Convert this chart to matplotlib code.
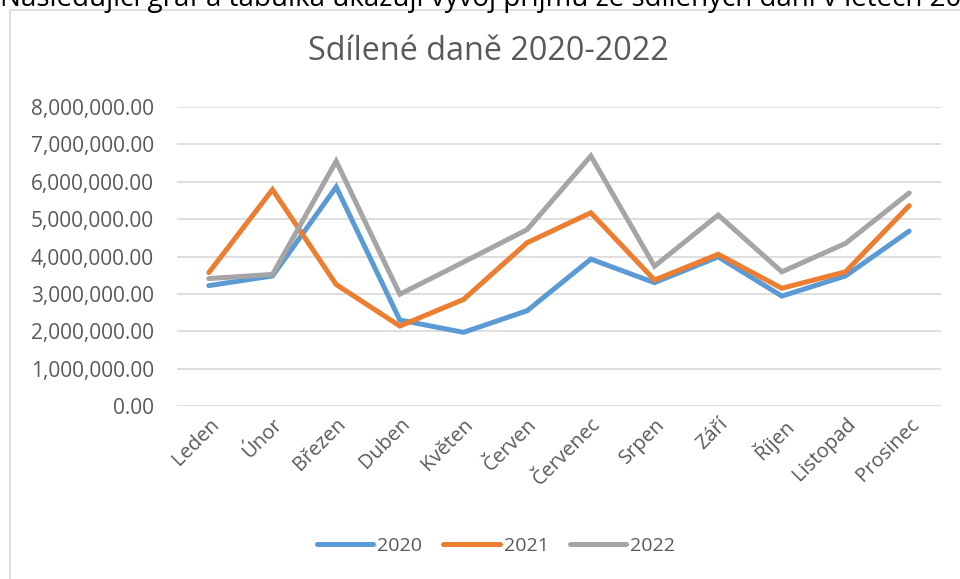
import matplotlib
matplotlib.use("Agg")
import matplotlib.pyplot as plt
from matplotlib.patches import Rectangle
from matplotlib.ticker import FuncFormatter, MultipleLocator

months = ["Leden", "Únor", "Březen", "Duben", "Květen", "Červen",
          "Červenec", "Srpen", "Září", "Říjen", "Listopad", "Prosinec"]
y2020 = [3.22e6, 3.48e6, 5.86e6, 2.30e6, 1.97e6, 2.55e6,
         3.93e6, 3.30e6, 3.99e6, 2.94e6, 3.48e6, 4.68e6]
y2021 = [3.57e6, 5.79e6, 3.25e6, 2.14e6, 2.85e6, 4.37e6,
         5.17e6, 3.37e6, 4.06e6, 3.15e6, 3.59e6, 5.36e6]
y2022 = [3.41e6, 3.52e6, 6.55e6, 2.99e6, 3.85e6, 4.72e6,
         6.69e6, 3.74e6, 5.11e6, 3.59e6, 4.35e6, 5.70e6]
series_names = ["2020", "2021", "2022"]
colors = ["#5B9BD5", "#ED7D31", "#A5A5A5"]
title = "Sdílené daně 2020-2022"
top_text = "Následující graf a tabulka ukazují vývoj příjmů ze sdílených daní v letech 2020-2022"

plt.rcParams['font.family'] = ['Open Sans', 'DejaVu Sans']
W, H = 960, 579
fig = plt.figure(figsize=(W / 100, H / 100), dpi=100)

# chart frame (cropped on right and bottom)
fig.patches.append(Rectangle((10 / W, -0.1), 1.2, 1.1 - 10 / H,
                             transform=fig.transFigure, fill=False,
                             edgecolor="#D9D9D9", linewidth=1.2, clip_on=False))
fig.text(0.0, 1 - 6 / H, top_text, ha="left", va="baseline",
         fontsize=20, color="#000000")

ax = fig.add_axes([177 / W, 1 - 406 / H, (941 - 177) / W, (406 - 107) / H])
x = list(range(len(months)))
for vals, name, c in zip([y2020, y2021, y2022], series_names, colors):
    ax.plot(x, vals, color=c, linewidth=3.6, label=name,
            solid_joinstyle="miter", solid_capstyle="round")

ax.set_xlim(-0.5, 11.5)
ax.set_ylim(0, 8e6)
ax.yaxis.set_major_locator(MultipleLocator(1e6))
ax.yaxis.set_major_formatter(FuncFormatter(lambda v, p: f"{v:,.2f}"))
ax.grid(axis="y", color="#D9D9D9", linewidth=1.2)
ax.set_axisbelow(True)
for s in ax.spines.values():
    s.set_visible(False)
ax.tick_params(axis="y", length=0, colors="#595959", labelsize=15, pad=16.5)
ax.set_xticks(x)
ax.set_xticklabels(months, rotation=45, ha="right", rotation_mode="anchor")
ax.tick_params(axis="x", length=0, colors="#595959", labelsize=14.5, pad=6)

fig.text(488 / W, 1 - 60 / H, title, ha="center", va="baseline",
         fontsize=23.3, color="#595959")

leg = ax.legend(loc="center", bbox_to_anchor=(496 / W, 1 - 546 / H),
                bbox_transform=fig.transFigure, ncol=3, frameon=False,
                fontsize=14, handlelength=2.9, handletextpad=0.2,
                columnspacing=1.1)
for t in leg.get_texts():
    t.set_color("#595959")

fig.savefig("out.png", dpi=100)
